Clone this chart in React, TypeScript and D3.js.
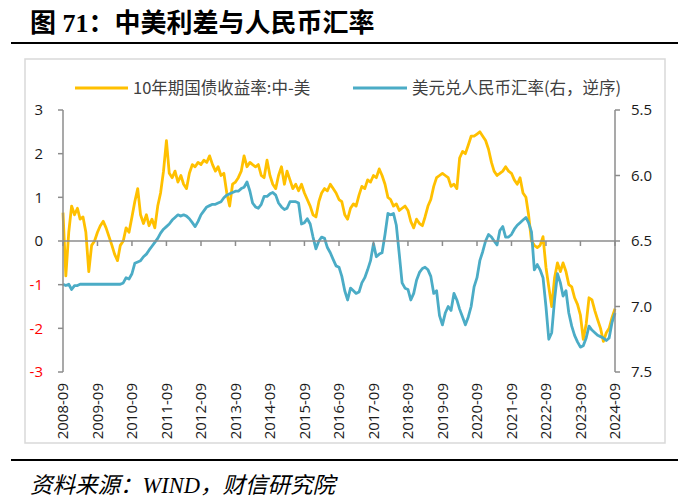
import React from 'react';
import * as d3 from 'd3';

const W = 694;
const H = 504;

// monthly observations, first = 2008-09
const startLabel = '2008-09';

// 10年期国债收益率:中-美 (left axis, %)
const spread = [
  0.65, -0.8, 0.2, 0.8, 0.6, 0.75, 0.5, 0.55, 0.2, -0.7, -0.1, 0.0,
  0.2, 0.35, 0.45, 0.3, 0.1, -0.1, -0.3, -0.45, -0.1, 0.0, 0.3, 0.2,
  0.55, 0.9, 1.2, 0.6, 0.4, 0.6, 0.35, 0.5, 0.3, 0.8, 1.1, 1.6,
  2.3, 1.55, 1.45, 1.6, 1.35, 1.5, 1.3, 1.2, 1.55, 1.75, 1.7, 1.8,
  1.75, 1.85, 1.8, 1.95, 1.75, 1.6, 1.7, 1.5, 1.55, 1.1, 0.8, 1.3,
  1.35, 1.45, 1.6, 1.95, 1.7, 1.8, 1.75, 1.7, 1.75, 1.5, 1.45, 1.85,
  1.5, 1.3, 1.2, 1.5, 1.7, 1.3, 1.6, 1.4, 1.2, 1.3, 1.15, 1.3,
  1.1, 0.95, 0.8, 0.6, 0.55, 0.9, 1.1, 1.2, 1.15, 1.3, 1.2, 1.1,
  0.95, 0.9, 0.6, 0.5, 0.75, 0.85, 0.8, 1.05, 1.25, 1.2, 1.4, 1.35,
  1.5, 1.45, 1.65, 1.5, 1.3, 1.0, 0.95, 0.8, 0.85, 0.7, 0.75, 0.8,
  0.7, 0.45, 0.3, 0.5, 0.4, 0.35, 0.55, 0.8, 0.95, 1.25, 1.45, 1.5,
  1.55, 1.5, 1.45, 1.25, 1.3, 1.2, 1.9, 2.05, 2.0, 2.2, 2.4, 2.4,
  2.45, 2.5, 2.4, 2.3, 2.1, 1.8, 1.6, 1.5, 1.55, 1.6, 1.7, 1.6,
  1.55, 1.4, 1.3, 1.45, 1.1, 1.0, 0.6, 0.0, -0.1, -0.15, -0.1, 0.1,
  -0.6, -1.05, -1.5, -0.85, -0.5, -0.7, -0.5, -0.7, -1.0, -1.05, -1.3, -1.45,
  -1.7, -2.25, -1.9, -1.3, -1.35, -1.6, -1.8, -2.0, -2.3, -2.1, -2.0, -1.75, -1.55,
];

// 美元兑人民币汇率 (right axis, reversed)
const usdcny = [
  6.83, 6.84, 6.83, 6.87, 6.84, 6.84, 6.83, 6.83, 6.83, 6.83, 6.83, 6.83,
  6.83, 6.83, 6.83, 6.83, 6.83, 6.83, 6.83, 6.83, 6.83, 6.82, 6.78, 6.79,
  6.75, 6.67, 6.66, 6.65, 6.62, 6.6, 6.57, 6.54, 6.51, 6.48, 6.44, 6.41,
  6.39, 6.37, 6.34, 6.32, 6.3, 6.31, 6.3, 6.31, 6.33, 6.36, 6.39, 6.35,
  6.3, 6.27, 6.24, 6.23, 6.22, 6.22, 6.21, 6.2, 6.17, 6.15, 6.14, 6.13,
  6.12, 6.12, 6.1, 6.09, 6.05, 6.12, 6.21, 6.24, 6.25, 6.22, 6.16, 6.16,
  6.14, 6.13, 6.15, 6.21, 6.24, 6.26, 6.25, 6.2, 6.2, 6.2, 6.21, 6.37,
  6.36, 6.33, 6.37, 6.47, 6.56, 6.5, 6.47, 6.48, 6.55, 6.59, 6.64, 6.69,
  6.7, 6.77, 6.88, 6.95, 6.86, 6.88, 6.9, 6.89, 6.82, 6.78, 6.72, 6.65,
  6.52, 6.62, 6.6, 6.59, 6.45, 6.29, 6.3, 6.29, 6.38, 6.6, 6.82, 6.86,
  6.87, 6.95, 6.9, 6.8, 6.74, 6.71, 6.7, 6.72, 6.77, 6.9, 6.88, 7.07,
  7.14, 7.05, 7.0, 7.03, 6.9, 6.95, 7.02, 7.08, 7.14, 7.08, 7.0, 6.85,
  6.78, 6.65, 6.58, 6.5, 6.45, 6.47, 6.5, 6.53, 6.42, 6.39, 6.47, 6.47,
  6.45, 6.41, 6.38, 6.36, 6.34, 6.32, 6.36, 6.43, 6.72, 6.68, 6.72, 6.78,
  7.0, 7.25, 7.2, 6.95, 6.75, 6.82, 6.92, 6.88, 7.05, 7.15, 7.22, 7.27,
  7.31, 7.3, 7.24, 7.15, 7.18, 7.2, 7.22, 7.23, 7.24, 7.26, 7.24, 7.12, 7.05,
];

const leftTicks = [-3, -2, -1, 0, 1, 2, 3];
const rightTicks = [5.5, 6.0, 6.5, 7.0, 7.5];
const xTickLabels = [
  '2008-09', '2009-09', '2010-09', '2011-09', '2012-09', '2013-09', '2014-09', '2015-09',
  '2016-09', '2017-09', '2018-09', '2019-09', '2020-09', '2021-09', '2022-09', '2023-09', '2024-09',
];
const legendLabels = ['10年期国债收益率:中-美', '美元兑人民币汇率(右，逆序)'];
const titleText = '图 71：中美利差与人民币汇率';
const sourceText = '资料来源：WIND，财信研究院';

const YELLOW = '#FFC000';
const BLUE = '#4BACC6';
const AXIS = '#8c8c8c';
const NUMFONT = "'Open Sans', 'Noto Sans CJK SC', sans-serif";
const CJKFONT = "'Noto Sans CJK SC', sans-serif";

export default function App() {
  const parse = d3.timeParse('%Y-%m');
  const start = parse(startLabel) as Date;
  const datesL = spread.map((_, i) => d3.timeMonth.offset(start, i));
  const datesR = usdcny.map((_, i) => d3.timeMonth.offset(start, i));
  const tickDates = xTickLabels.map((s) => parse(s) as Date);

  const x = d3.scaleTime().domain([tickDates[0], tickDates[tickDates.length - 1]]).range([63, 615]);
  const yL = d3.scaleLinear().domain([-3, 3]).range([372, 110]);
  const yR = d3.scaleLinear().domain([5.5, 7.5]).range([110, 372]);

  const lineL = d3
    .line<number>()
    .x((_, i) => x(datesL[i]))
    .y((d) => yL(d));
  const lineR = d3
    .line<number>()
    .x((_, i) => x(datesR[i]))
    .y((d) => yR(d));

  const x0 = x.range()[0];
  const x1 = x.range()[1];
  const yTop = yL.range()[1];
  const yBot = yL.range()[0];
  const yZero = yL(0);

  return (
    <svg
      width={W}
      height={H}
      viewBox={`0 0 ${W} ${H}`}
      style={{ position: 'absolute', left: 0, top: 0, background: '#fff' }}
    >
      <rect x={0} y={0} width={W} height={H} fill="#fff" />
      {/* title */}
      <text
        x={30}
        y={32}
        fontSize={26}
        fontWeight="bold"
        fontFamily="'Liberation Serif', 'Noto Sans CJK SC', serif"
        fill="#000"
      >
        {titleText}
      </text>
      <line x1={11} x2={678} y1={43} y2={43} stroke="#000" strokeWidth={2.2} />

      {/* chart frame */}
      <rect x={25} y={59} width={640} height={384} fill="#fff" stroke="#d9d9d9" strokeWidth={1.5} />

      {/* legend */}
      <line x1={75} x2={128} y1={88} y2={88} stroke={YELLOW} strokeWidth={2.8} />
      <text x={133} y={88} dy="0.36em" fontSize={16.5} fontFamily={CJKFONT} fill="#404040">
        {legendLabels[0]}
      </text>
      <line x1={353} x2={407} y1={88} y2={88} stroke={BLUE} strokeWidth={2.8} />
      <text x={412} y={88} dy="0.36em" fontSize={16.5} fontFamily={CJKFONT} fill="#404040">
        {legendLabels[1]}
      </text>

      {/* series */}
      <path d={lineL(spread) || ''} fill="none" stroke={YELLOW} strokeWidth={2.8} strokeLinejoin="round" />
      <path d={lineR(usdcny) || ''} fill="none" stroke={BLUE} strokeWidth={2.8} strokeLinejoin="round" />

      {/* axes */}
      <line x1={x0} x2={x0} y1={yTop} y2={yBot} stroke={AXIS} strokeWidth={1.5} />
      <line x1={x1} x2={x1} y1={yTop} y2={yBot} stroke={AXIS} strokeWidth={1.5} />
      <line x1={x0} x2={x1} y1={yZero} y2={yZero} stroke={AXIS} strokeWidth={1.5} />

      {leftTicks.map((t) => (
        <g key={`l${t}`}>
          <line x1={x0 - 5} x2={x0} y1={yL(t)} y2={yL(t)} stroke={AXIS} strokeWidth={1.5} />
          <text
            x={43}
            y={yL(t)}
            dy="0.36em"
            textAnchor="end"
            fontSize={15}
            fontFamily={NUMFONT}
            fill={t < 0 ? '#FF0000' : '#1a1a1a'}
          >
            {t}
          </text>
        </g>
      ))}
      {rightTicks.map((t) => (
        <g key={`r${t}`}>
          <line x1={x1} x2={x1 + 5} y1={yR(t)} y2={yR(t)} stroke={AXIS} strokeWidth={1.5} />
          <text x={631} y={yR(t)} dy="0.36em" fontSize={15} fontFamily={NUMFONT} fill="#1a1a1a">
            {t.toFixed(1)}
          </text>
        </g>
      ))}
      {tickDates.map((d, i) => (
        <g key={`x${i}`}>
          <line x1={x(d)} x2={x(d)} y1={yZero} y2={yZero + 5} stroke={AXIS} strokeWidth={1.5} />
          <text
            transform={`translate(${x(d)},383) rotate(-90)`}
            dy="0.36em"
            textAnchor="end"
            fontSize={15}
            fontFamily={NUMFONT}
            fill="#1a1a1a"
          >
            {xTickLabels[i]}
          </text>
        </g>
      ))}

      {/* source */}
      <line x1={11} x2={678} y1={460} y2={460} stroke="#000" strokeWidth={2.2} />
      <text
        x={30}
        y={493}
        fontSize={22.5}
        fontStyle="italic"
        fontFamily="'Liberation Serif', 'Noto Sans CJK SC', serif"
        fill="#000"
      >
        {sourceText}
      </text>
    </svg>
  );
}
